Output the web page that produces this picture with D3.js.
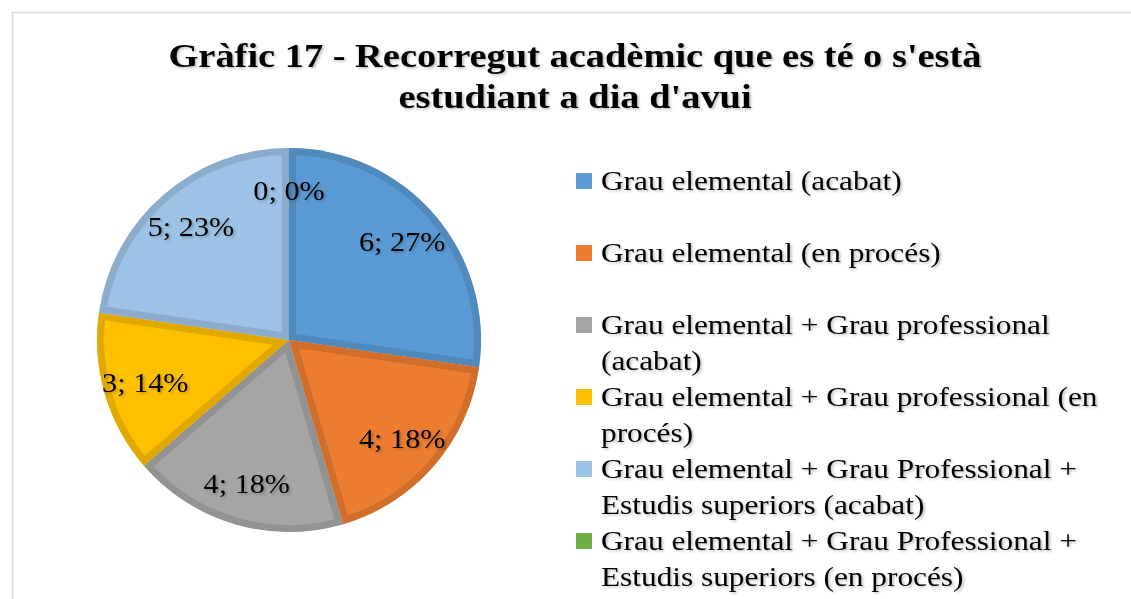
<!DOCTYPE html>
<html>
<head>
<meta charset="utf-8">
<script src="https://cdn.jsdelivr.net/npm/d3@7"></script>
<style>
	html, body { margin: 0; padding: 0; background: #fff; }
	svg { display: block; }
	text { font-family: "Liberation Serif", "Times New Roman", serif; fill: #000; }
</style>
</head>
<body>
<svg id="chart" width="1131" height="599"></svg>
<script>
'use strict';

// data
var categories = [
	'Grau elemental (acabat)',
	'Grau elemental (en procés)',
	'Grau elemental + Grau professional (acabat)',
	'Grau elemental + Grau professional (en procés)',
	'Grau elemental + Grau Professional + Estudis superiors (acabat)',
	'Grau elemental + Grau Professional + Estudis superiors (en procés)'
];
var counts = [6, 4, 4, 3, 5, 0];
var fills = ['#5b9bd5', '#ed7d31', '#a5a5a5', '#ffc000', '#9dc3e6', '#70ad47'];
var titleLines = ['Gràfic 17 - Recorregut acadèmic que es té o s\'està', 'estudiant a dia d\'avui'];

var svg = d3.select('#chart');
var defs = svg.append('defs');

// the source text is drawn a bit wider than the font itself
var titleSx = 1.13, legendSx = 1.16, labelSx = 1.12;

// soft text shadow like the office chart
var shadow = defs.append('filter').attr('id', 'tshadow')
	.attr('x', '-10%').attr('y', '-20%').attr('width', '120%').attr('height', '150%');
shadow.append('feDropShadow')
	.attr('dx', 1.5).attr('dy', 1.5).attr('stdDeviation', 1)
	.attr('flood-color', '#000').attr('flood-opacity', 0.25);

// frame (chart area border, cropped)
svg.append('path')
	.attr('d', 'M12.5,599 L12.5,12.5 L1131,12.5')
	.attr('fill', 'none')
	.attr('stroke', '#d9d9d9')
	.attr('stroke-width', 1.5);

// title
svg.append('g').selectAll('g')
	.data(titleLines)
	.enter().append('g')
		.attr('transform', function(d, i){ return 'translate(575,' + (67 + i * 41) + ') scale(' + titleSx + ',1)'; })
	.append('text')
		.attr('text-anchor', 'middle')
		.attr('font-size', 34)
		.attr('font-weight', 'bold')
		.attr('filter', 'url(#tshadow)')
		.text(function(d){ return d; });

// pie
var cx = 289, cy = 340, radius = 192;
var total = d3.sum(counts);
var pie = d3.pie().sort(null).value(function(d){ return d; });
var arc = d3.arc().innerRadius(0).outerRadius(radius);
var labelArc = d3.arc().innerRadius(radius * 0.78).outerRadius(radius * 0.78);
var arcs = pie(counts);

var gPie = svg.append('g').attr('transform', 'translate(' + cx + ',' + cy + ')');

arcs.forEach(function(a, i){
	var clipId = 'clip' + i;
	defs.append('clipPath').attr('id', clipId)
		.append('path').attr('d', arc(a));
	gPie.append('g')
		.attr('clip-path', 'url(#' + clipId + ')')
		.append('path')
			.attr('d', arc(a))
			.attr('fill', fills[i])
			.attr('stroke', d3.color(fills[i]).darker(0.35))
			.attr('stroke-width', 14)
			.attr('stroke-linejoin', 'miter');
});

gPie.selectAll('g.lbl')
	.data(arcs)
	.enter().append('g')
		.attr('class', 'lbl')
		.attr('transform', function(d){ var c = labelArc.centroid(d); return 'translate(' + c[0] + ',' + c[1] + ') scale(' + labelSx + ',1)'; })
	.append('text')
		.attr('dy', '0.35em')
		.attr('text-anchor', 'middle')
		.attr('font-size', 27)
		.attr('filter', 'url(#tshadow)')
		.text(function(d){ return d.value + '; ' + Math.round(d.value * 100 / total) + '%'; });

// legend
var legendX = 576, legendTop = 181, lineH = 36, maxW = 512;
var gLeg = svg.append('g');
var row = 0;
categories.forEach(function(c, i){
	var y0 = legendTop + row * lineH;
	gLeg.append('rect')
		.attr('x', legendX).attr('y', y0 - 8)
		.attr('width', 16).attr('height', 16)
		.attr('fill', fills[i]);
	var g = gLeg.append('g')
		.attr('transform', 'translate(' + (legendX + 25) + ',' + y0 + ') scale(' + legendSx + ',1)');
	var t = g.append('text')
		.attr('font-size', 27)
		.attr('filter', 'url(#tshadow)');
	// wrap words into lines
	var words = c.split(' '), line = [], lines = [];
	var probe = g.append('text').attr('font-size', 27);
	words.forEach(function(w){
		line.push(w);
		probe.text(line.join(' '));
		if (probe.node().getComputedTextLength() * legendSx > maxW && line.length > 1) {
			line.pop();
			lines.push(line.join(' '));
			line = [w];
		}
	});
	lines.push(line.join(' '));
	probe.remove();
	lines.forEach(function(l, k){
		t.append('tspan').attr('x', 0).attr('y', k * lineH).attr('dy', '0.33em').text(l);
	});
	row += 2;
});
</script>
</body>
</html>
